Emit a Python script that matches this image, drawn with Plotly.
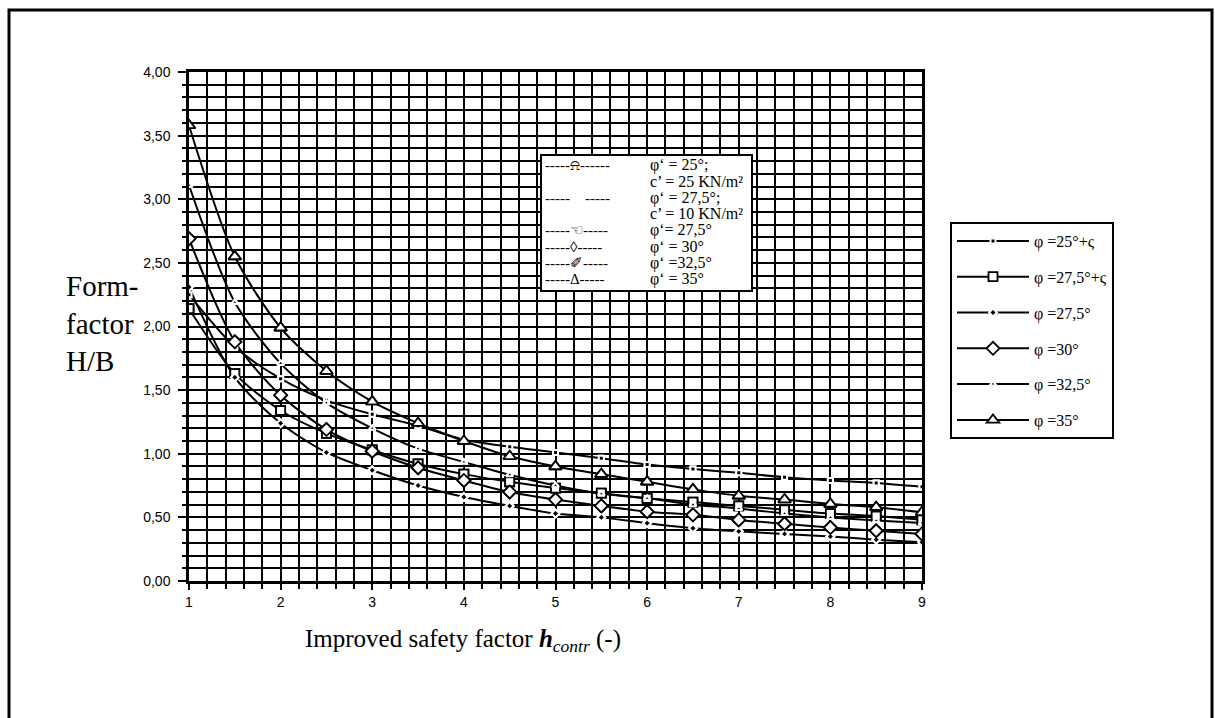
import plotly.graph_objects as go

# Improved safety factor (x) and form factor H/B for each friction angle
H_CONTR = [1, 1.5, 2, 2.5, 3, 3.5, 4, 4.5, 5, 5.5, 6, 6.5, 7, 7.5, 8, 8.5, 9]

PHI_25_C = [2.25, 1.84, 1.59, 1.42, 1.31, 1.22, 1.11, 1.055, 1.01, 0.965, 0.915, 0.88, 0.85, 0.815, 0.79, 0.77, 0.74]
PHI_275_C = [2.14, 1.63, 1.34, 1.16, 1.03, 0.92, 0.84, 0.78, 0.73, 0.69, 0.65, 0.62, 0.59, 0.56, 0.53, 0.51, 0.48]
PHI_275 = [2.31, 1.60, 1.24, 1.01, 0.87, 0.75, 0.66, 0.59, 0.53, 0.50, 0.455, 0.415, 0.39, 0.37, 0.35, 0.325, 0.305]
PHI_30 = [2.69, 1.88, 1.46, 1.19, 1.02, 0.89, 0.79, 0.70, 0.64, 0.59, 0.545, 0.52, 0.48, 0.45, 0.42, 0.395, 0.37]
PHI_325 = [3.11, 2.19, 1.71, 1.40, 1.20, 1.04, 0.935, 0.835, 0.75, 0.685, 0.65, 0.60, 0.57, 0.53, 0.50, 0.475, 0.455]
PHI_35 = [3.58, 2.55, 1.99, 1.65, 1.41, 1.24, 1.10, 0.98, 0.90, 0.84, 0.78, 0.72, 0.67, 0.64, 0.605, 0.58, 0.54]

SERIES_NAMES = ["φ =25°+ς", "φ =27,5°+ς", "φ =27,5°", "φ =30°", "φ =32,5°", "φ =35°"]
SERIES_VALUES = [PHI_25_C, PHI_275_C, PHI_275, PHI_30, PHI_325, PHI_35]

NOTE_SYMBOLS = ["-----⍾------", "", "-----    -----", "", "-----☜-----", "-----◊-----", "-----✐-----", "-----Δ-----"]
NOTE_TEXTS = ["φ‘ = 25°;", "c’ = 25 KN/m²", "φ‘ = 27,5°;", "c’ = 10 KN/m²", "φ‘= 27,5°", "φ‘ = 30°", "φ‘ =32,5°", "φ‘ = 35°"]

# marker style per series: small black markers with a white rim, or open markers
MARKERS = [
    dict(symbol="square", size=5, color="black", line=dict(color="white", width=2)),
    dict(symbol="square", size=9, color="white", line=dict(color="black", width=1.8)),
    dict(symbol="diamond", size=6, color="black", line=dict(color="white", width=2)),
    dict(symbol="diamond", size=10, color="white", line=dict(color="black", width=1.8)),
    dict(symbol="triangle-up", size=6, color="black", line=dict(color="white", width=2)),
    dict(symbol="triangle-up", size=11, color="white", line=dict(color="black", width=1.8)),
]

W, H = 1215, 718
L, R, T, B = 189, W - 922, 72, H - 581
PW, PH = W - L - R, H - T - B


def px_x(p):
    return (p - L) / PW


def px_y(p):
    return (H - B - p) / PH


SERIF = "Liberation Serif, Times New Roman, serif"
SANS = "Liberation Sans, Arial, sans-serif"

fig = go.Figure()

for i, (name, vals) in enumerate(zip(SERIES_NAMES, SERIES_VALUES)):
    fig.add_trace(go.Scatter(
        x=H_CONTR, y=vals, name=name, mode="lines+markers",
        legendgroup=f"g{i}",
        line=dict(color="black", width=2, shape="spline", smoothing=0.8),
        marker=MARKERS[i],
    ))

# markers again on top of every curve so they sit above crossing lines
for i, vals in enumerate(SERIES_VALUES):
    fig.add_trace(go.Scatter(
        x=H_CONTR, y=vals, mode="markers", showlegend=False,
        marker=MARKERS[i], hoverinfo="skip",
    ))

shapes = [
    # outer frame
    dict(type="rect", xref="paper", yref="paper",
         x0=px_x(9), x1=px_x(1212), y0=px_y(730), y1=px_y(10),
         line=dict(color="black", width=3), fillcolor="rgba(0,0,0,0)", layer="above"),
    # note box inside the plot
    dict(type="rect", xref="paper", yref="paper",
         x0=px_x(541), x1=px_x(752), y0=px_y(291), y1=px_y(155),
         line=dict(color="black", width=2), fillcolor="white", layer="above"),
]

annotations = []
NOTE_TOP, NOTE_STEP = 165, 16.3
for k, (sym, txt) in enumerate(zip(NOTE_SYMBOLS, NOTE_TEXTS)):
    yk = px_y(NOTE_TOP + k * NOTE_STEP)
    if sym:
        annotations.append(dict(
            text=sym, xref="paper", yref="paper", x=px_x(543), y=yk,
            xanchor="left", yanchor="middle", showarrow=False,
            font=dict(family=SERIF, size=15, color="black")))
    annotations.append(dict(
        text=txt, xref="paper", yref="paper", x=px_x(648), y=yk,
        xanchor="left", yanchor="middle", showarrow=False,
        font=dict(family=SERIF, size=16, color="black")))

annotations += [
    dict(text="Form-<br>factor<br>H/B", xref="paper", yref="paper",
         x=px_x(64), y=px_y(323), xanchor="left", yanchor="middle", align="left",
         showarrow=False, font=dict(family=SERIF, size=29, color="black")),
    dict(text="Improved safety factor <b><i>h</i></b><sub><i>contr</i></sub> (-)",
         xref="paper", yref="paper", x=px_x(303), y=px_y(640),
         xanchor="left", yanchor="middle", showarrow=False,
         font=dict(family=SERIF, size=25, color="black")),
]

GRID_W = 1.8

fig.update_layout(
    width=W, height=H,
    margin=dict(l=L, r=R, t=T, b=B),
    paper_bgcolor="white", plot_bgcolor="white",
    separators=",.",
    shapes=shapes, annotations=annotations,
    showlegend=True,
    legend=dict(
        x=px_x(950), y=px_y(222), xanchor="left", yanchor="top",
        bordercolor="black", borderwidth=2, bgcolor="white",
        font=dict(family=SERIF, size=16, color="black"),
        itemwidth=72, traceorder="grouped", tracegroupgap=12,
    ),
    xaxis=dict(
        range=[1, 9], tick0=1, dtick=1, tickformat="d",
        showgrid=True, gridcolor="black", gridwidth=GRID_W,
        showline=True, linecolor="black", linewidth=2.5, mirror=True,
        ticks="outside", ticklen=6, tickwidth=1.5, tickcolor="black",
        tickfont=dict(family=SANS, size=14, color="black"),
        minor=dict(dtick=0.2, tick0=1, showgrid=True, gridcolor="black", gridwidth=GRID_W,
                   ticks="outside", ticklen=5, tickwidth=1.5, tickcolor="black"),
        zeroline=False,
    ),
    yaxis=dict(
        range=[0, 4], tick0=0, dtick=0.5, tickformat=".2f",
        showgrid=True, gridcolor="black", gridwidth=GRID_W,
        showline=True, linecolor="black", linewidth=2.5, mirror=True,
        ticks="outside", ticklen=8, tickwidth=1.5, tickcolor="black",
        ticklabelstandoff=5,
        tickfont=dict(family=SANS, size=14, color="black"),
        minor=dict(dtick=0.1, tick0=0, showgrid=True, gridcolor="black", gridwidth=GRID_W,
                   ticks="outside", ticklen=4, tickwidth=1.5, tickcolor="black"),
        zeroline=False,
    ),
)

fig.write_html("out.html")
